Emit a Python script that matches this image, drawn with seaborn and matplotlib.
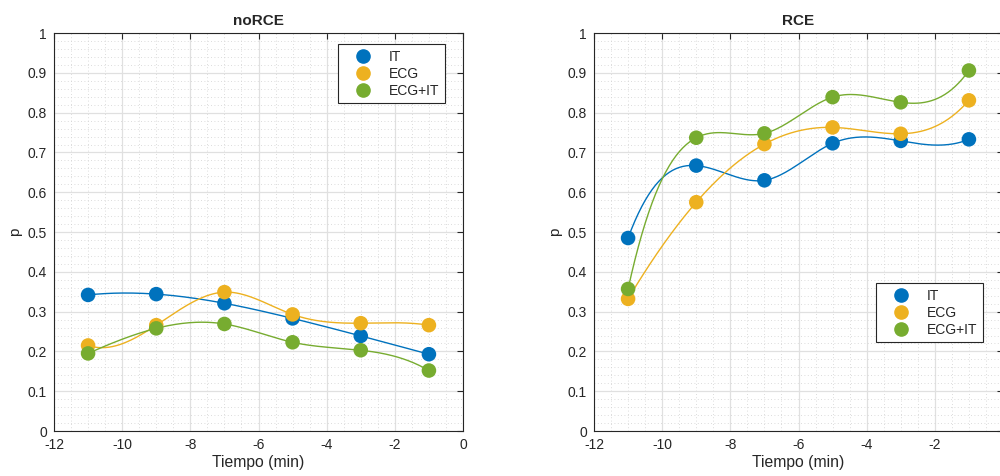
import numpy as np
import matplotlib
matplotlib.use("Agg")
import matplotlib.pyplot as plt
import seaborn as sns
from matplotlib.lines import Line2D
from matplotlib.ticker import MultipleLocator

# ======================
# DATA
# ======================
tiempo = [-11, -9, -7, -5, -3, -1]
series_names = ["IT", "ECG", "ECG+IT"]
colors = ["#0072BD", "#EDB120", "#77AC30"]

norce_it = [0.342, 0.344, 0.321, 0.283, 0.239, 0.193]
norce_ecg = [0.215, 0.266, 0.349, 0.293, 0.271, 0.266]
norce_ecg_it = [0.195, 0.258, 0.269, 0.223, 0.203, 0.152]

rce_it = [0.485, 0.667, 0.630, 0.723, 0.729, 0.733]
rce_ecg = [0.332, 0.575, 0.721, 0.763, 0.747, 0.831]
rce_ecg_it = [0.357, 0.737, 0.748, 0.839, 0.826, 0.906]

x_ticks = [-12, -10, -8, -6, -4, -2, 0]
y_ticks = [0, 0.1, 0.2, 0.3, 0.4, 0.5, 0.6, 0.7, 0.8, 0.9, 1]
y_tick_labels = ["0", "0.1", "0.2", "0.3", "0.4", "0.5",
                 "0.6", "0.7", "0.8", "0.9", "1"]


# ======================
# SPLINE (not-a-knot, like matlab spline) just for drawing the line
# ======================
def spline_curve(x, y, num=200):
    x = np.asarray(x, float)
    y = np.asarray(y, float)
    n = len(x)
    h = np.diff(x)
    A = np.zeros((n, n))
    b = np.zeros(n)
    for i in range(1, n - 1):
        A[i, i - 1] = h[i - 1]
        A[i, i] = 2 * (h[i - 1] + h[i])
        A[i, i + 1] = h[i]
        b[i] = 6 * ((y[i + 1] - y[i]) / h[i] - (y[i] - y[i - 1]) / h[i - 1])
    A[0, 0], A[0, 1], A[0, 2] = h[1], -(h[0] + h[1]), h[0]
    A[-1, -3], A[-1, -2], A[-1, -1] = h[-1], -(h[-2] + h[-1]), h[-2]
    M = np.linalg.solve(A, b)
    xs = np.linspace(x[0], x[-1], num)
    idx = np.clip(np.searchsorted(x, xs) - 1, 0, n - 2)
    x0, x1 = x[idx], x[idx + 1]
    hh = x1 - x0
    ys = (M[idx] * (x1 - xs) ** 3 / (6 * hh) + M[idx + 1] * (xs - x0) ** 3 / (6 * hh)
          + (y[idx] / hh - M[idx] * hh / 6) * (x1 - xs)
          + (y[idx + 1] / hh - M[idx + 1] * hh / 6) * (xs - x0))
    return xs, ys


# ======================
# STYLE
# ======================
sns.set_style("white")
plt.rcParams["font.family"] = ["Liberation Sans", "DejaVu Sans"]
plt.rcParams["axes.unicode_minus"] = False
plt.rcParams["axes.edgecolor"] = "#262626"
plt.rcParams["xtick.color"] = "#262626"
plt.rcParams["ytick.color"] = "#262626"

fig = plt.figure(figsize=(10, 4.76), dpi=100)
ax1 = fig.add_axes([0.054, 0.0945, 0.409, 0.836])
ax2 = fig.add_axes([0.594, 0.0945, 0.409, 0.836])


def draw_panel(ax, data, title, legend_anchor):
    for vals, col in zip(data, colors):
        xs, ys = spline_curve(tiempo, vals)
        sns.lineplot(x=xs, y=ys, ax=ax, color=col, linewidth=1.0, sort=False)
        sns.scatterplot(x=tiempo, y=vals, ax=ax, color=col, s=110,
                        edgecolor="none", zorder=3)

    ax.set_xlim(-12, 0)
    ax.set_ylim(0, 1)
    ax.set_xticks(x_ticks)
    ax.set_xticklabels([str(t) for t in x_ticks])
    ax.set_yticks(y_ticks)
    ax.set_yticklabels(y_tick_labels)
    ax.xaxis.set_minor_locator(MultipleLocator(0.5))
    ax.yaxis.set_minor_locator(MultipleLocator(0.02))

    ax.grid(which="major", color="#e0e0e0", linewidth=0.9)
    ax.grid(which="minor", color="#d0d0d0", linewidth=0.6, linestyle=(0, (1, 3)))
    ax.set_axisbelow(True)

    ax.tick_params(which="major", direction="in", length=4, width=0.8,
                   top=True, right=True, labelsize=10, pad=5)
    ax.tick_params(which="minor", length=0, top=True, right=True)
    for sp in ax.spines.values():
        sp.set_linewidth(0.8)
        sp.set_color("#262626")

    ax.set_title(title, fontsize=11, fontweight="bold", pad=6)
    ax.set_xlabel("Tiempo (min)", fontsize=11.3, labelpad=2)
    ax.set_ylabel("p", fontsize=11, labelpad=4)

    handles = [Line2D([], [], marker="o", linestyle="none", markersize=9.5,
                      color=c) for c in colors]
    leg = ax.legend(handles, series_names, loc="upper right",
                    bbox_to_anchor=legend_anchor, fontsize=10,
                    frameon=True, fancybox=False, framealpha=1,
                    edgecolor="#262626", handletextpad=0.55, borderpad=0.4,
                    labelspacing=0.22, handlelength=2.7, borderaxespad=0)
    leg.get_frame().set_linewidth(0.8)


draw_panel(ax1, [norce_it, norce_ecg, norce_ecg_it], "noRCE", (0.956, 0.972))
draw_panel(ax2, [rce_it, rce_ecg, rce_ecg_it], "RCE", (0.951, 0.372))

fig.savefig("out.png", dpi=100)
